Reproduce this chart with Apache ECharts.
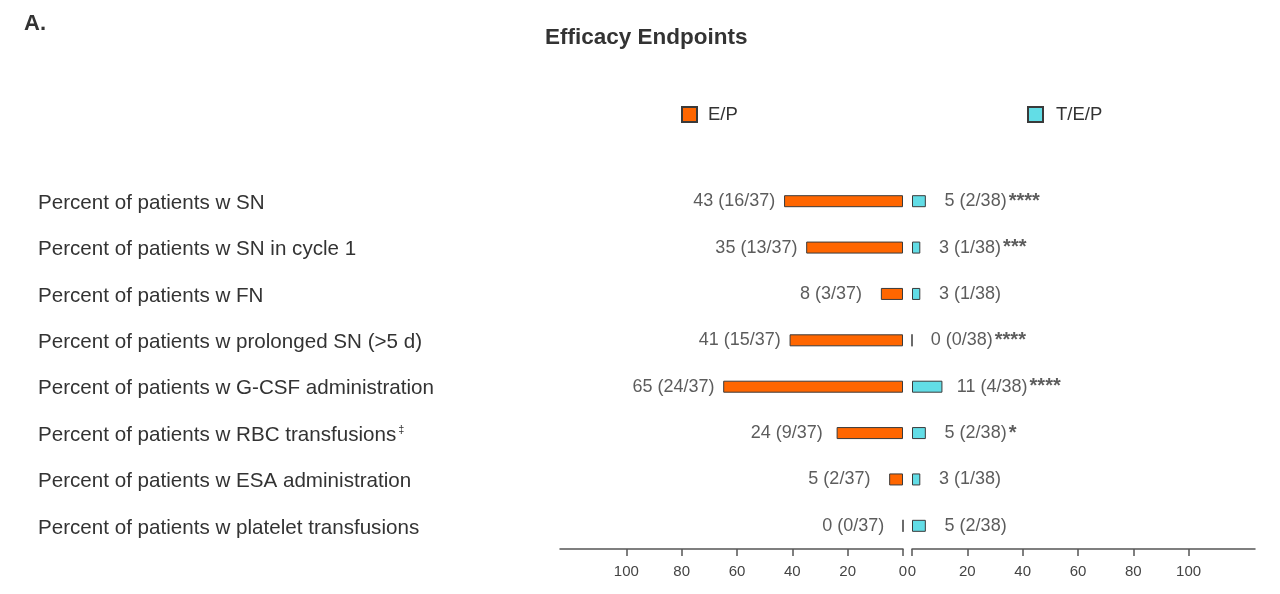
<!DOCTYPE html>
<html>
<head>
<meta charset="utf-8">
<script src="https://cdn.jsdelivr.net/npm/echarts@6/dist/echarts.min.js"></script>
<style>
  html, body { margin: 0; padding: 0; background: #fff; }
  #chart { width: 1280px; height: 594px; }
</style>
</head>
<body>
<div id="chart"></div>
<script>
// ---- data ----
const categories = [
  'Percent of patients w SN',
  'Percent of patients w SN in cycle 1',
  'Percent of patients w FN',
  'Percent of patients w prolonged SN (>5 d)',
  'Percent of patients w G-CSF administration',
  'Percent of patients w RBC transfusions‡',
  'Percent of patients w ESA administration',
  'Percent of patients w platelet transfusions'
];
const epPct = [43, 35, 8, 41, 65, 24, 5, 0];
const epCount = ['16/37', '13/37', '3/37', '15/37', '24/37', '9/37', '2/37', '0/37'];
const tepPct = [5, 3, 3, 0, 11, 5, 3, 5];
const tepCount = ['2/38', '1/38', '1/38', '0/38', '4/38', '2/38', '1/38', '2/38'];
const tepSig = ['****', '***', '', '****', '****', '*', '', ''];
const tickValues = [0, 20, 40, 60, 80, 100];
const seriesNames = ['E/P', 'T/E/P'];

// ---- style ----
const FONT = '"Liberation Sans", Arial, Helvetica, sans-serif';
const LABEL_GAP = 18;      // label centre sits this many axis units beyond the bar end
const AXIS_MAX = 124;
const EP_COLOR = '#FF6600';
const TEP_COLOR = '#62DDE6';
const BORDER = '#3a3a3a';
const TEXT = '#333333';

const measureCtx = document.createElement('canvas').getContext('2d');
measureCtx.font = '18px ' + FONT;
function textWidth(s) { return measureCtx.measureText(s).width; }

const chart = echarts.init(document.getElementById('chart'), null, { renderer: 'canvas' });

const xAxisCommon = {
  type: 'value',
  min: 0,
  max: AXIS_MAX,
  interval: 20,
  position: 'bottom',
  splitLine: { show: false },
  axisLine: { show: true, lineStyle: { color: '#555', width: 1.5 } },
  axisTick: { show: true, length: 7, lineStyle: { color: '#555', width: 1.5 }, customValues: tickValues },
  axisLabel: { fontSize: 15, color: '#444', fontFamily: FONT, margin: 15, customValues: tickValues }
};

const option = {
  animation: false,
  backgroundColor: '#fff',
  textStyle: { fontFamily: FONT },
  title: [
    { text: 'A.', left: 24, top: 13, padding: 0, textStyle: { fontSize: 22, fontWeight: 'bold', color: TEXT, fontFamily: FONT } },
    { text: 'Efficacy Endpoints', left: 545, top: 26, padding: 0, textStyle: { fontSize: 22.5, fontWeight: 'bold', color: TEXT, fontFamily: FONT } }
  ],
  legend: [
    { data: [seriesNames[0]], left: 676, top: 100, icon: 'rect', itemWidth: 15, itemHeight: 15,
      textStyle: { fontSize: 18.5, color: TEXT, fontFamily: FONT, padding: [0, 0, 0, 6] } },
    { data: [seriesNames[1]], left: 1022, top: 100, icon: 'rect', itemWidth: 15, itemHeight: 15,
      textStyle: { fontSize: 18.5, color: TEXT, fontFamily: FONT, padding: [0, 0, 0, 8] } }
  ],
  grid: [
    { left: 560, width: 343, top: 178, bottom: 45 },
    { left: 912, width: 343, top: 178, bottom: 45 }
  ],
  xAxis: [
    Object.assign({}, xAxisCommon, { gridIndex: 0, inverse: true }),
    Object.assign({}, xAxisCommon, { gridIndex: 1 })
  ],
  yAxis: [
    {
      type: 'category', gridIndex: 0, data: categories, inverse: true,
      axisLine: { show: false }, axisTick: { show: false }, splitLine: { show: false },
      axisLabel: {
        align: 'left', margin: 522, fontSize: 20.6, color: TEXT, fontFamily: FONT,
        padding: [4, 0, 0, 0],
        formatter: function (v) {
          const parts = v.split('‡');
          return parts.length > 1 ? parts[0] + '{sup|‡}' : v;
        },
        rich: { sup: { fontSize: 11, color: TEXT, verticalAlign: 'top', padding: [0, 0, 8, 2] } }
      }
    },
    {
      type: 'category', gridIndex: 1, data: categories, inverse: true, show: false
    }
  ],
  series: [
    {
      name: seriesNames[0], type: 'bar', xAxisIndex: 0, yAxisIndex: 0,
      data: epPct, barWidth: 12,
      itemStyle: { color: EP_COLOR, borderColor: BORDER, borderWidth: 1 }
    },
    {
      name: seriesNames[1], type: 'bar', xAxisIndex: 1, yAxisIndex: 1,
      data: tepPct, barWidth: 12,
      itemStyle: { color: TEP_COLOR, borderColor: BORDER, borderWidth: 1 }
    },
    {
      name: 'epLabels', type: 'scatter', xAxisIndex: 0, yAxisIndex: 0, symbolSize: 0, silent: true,
      data: epPct.map((v, i) => [v + LABEL_GAP, i]),
      label: {
        show: true, position: 'inside', align: 'center', fontSize: 18, color: TEXT, fontFamily: FONT,
        formatter: p => epPct[p.dataIndex] + ' (' + epCount[p.dataIndex] + ')'
      }
    },
    {
      name: 'tepLabels', type: 'scatter', xAxisIndex: 1, yAxisIndex: 1, symbolSize: 0, silent: true,
      data: tepPct.map((v, i) => {
        const main = tepPct[i] + ' (' + tepCount[i] + ')';
        return {
          value: [v + LABEL_GAP, i],
          label: { offset: [-textWidth(main) / 2, 0] }
        };
      }),
      label: {
        show: true, position: 'inside', align: 'left', fontSize: 18, color: TEXT, fontFamily: FONT,
        formatter: p => {
          const i = p.dataIndex;
          const main = tepPct[i] + ' (' + tepCount[i] + ')';
          return '{m|' + main + '}' + (tepSig[i] ? '{s|' + tepSig[i] + '}' : '');
        },
        rich: {
          m: { fontSize: 18, color: TEXT, fontFamily: FONT },
          s: { fontSize: 20, fontWeight: 'bold', color: TEXT, fontFamily: FONT, verticalAlign: 'top', padding: [0, 0, 0, 2] }
        }
      }
    }
  ]
};

chart.setOption(option);
</script>
</body>
</html>
